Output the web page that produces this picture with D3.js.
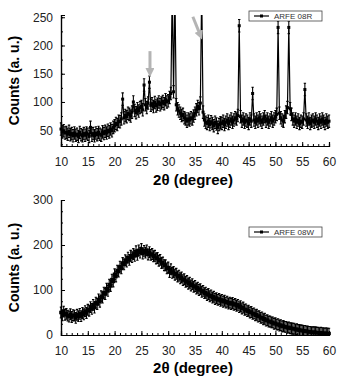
<!DOCTYPE html>
<html>
<head>
<meta charset="utf-8">
<script src="https://cdn.jsdelivr.net/npm/d3@7"></script>
<style>
  body { margin: 0; background: #fff; }
  svg { display: block; font-family: "Liberation Sans", Arial, sans-serif; }
</style>
</head>
<body>
<svg id="chart" width="340" height="377"></svg>
<script>
// sampling grid of the scans (2theta, degree)
var thetaStart = 10, thetaStep = 0.25;

// ARFE 08R counts, 10.00 ... 60.00 step 0.25
var countsR = [
  52,47,49,45,46,43,48,42,44,40,45,41,43,39,46,42,40,44,41,45,
  43,39,55,41,44,40,45,42,46,43,41,47,44,48,45,50,47,52,49,55,
  58,62,60,66,65,70,105,72,76,74,80,78,75,82,100,85,81,88,84,90,
  92,86,130,95,90,98,135,94,97,92,99,93,96,100,95,98,101,97,104,100,
  102,108,115,300,118,300,95,88,84,80,76,78,72,70,66,70,68,72,70,75,
  80,86,92,88,98,300,82,68,64,62,66,60,65,62,58,64,61,55,60,63,
  62,66,60,64,68,62,66,70,64,68,72,70,76,235,74,66,70,64,68,66,
  62,70,66,115,68,64,70,66,72,68,64,70,74,66,70,64,68,72,66,70,
  74,78,232,80,72,68,66,74,82,90,232,88,78,70,66,70,64,68,62,66,
  64,70,122,68,64,70,62,66,68,64,70,66,62,68,64,70,66,62,68,64,
  66
];

// ARFE 08W counts, 10.00 ... 60.00 step 0.25
var countsW = [
  50,44,52,45,47,43,41,46,40,44,43,38,45,42,47,42,49,46,53,49,
  56,54,62,58,67,61,72,69,79,74,86,83,94,91,103,98,112,109,123,119,
  135,130,143,141,152,148,160,157,166,163,172,167,176,173,180,176,186,178,188,183,
  191,181,187,183,188,179,184,178,180,175,176,170,171,165,167,160,161,155,155,148,
  150,140,146,138,140,134,136,130,132,126,128,122,124,118,120,114,116,110,113,107,
  109,103,105,100,102,96,98,93,94,89,91,86,88,83,85,80,82,78,80,76,
  78,74,76,72,74,70,72,69,71,67,69,65,67,62,64,59,61,56,57,53,
  54,50,51,47,48,44,45,41,42,38,39,35,36,32,33,30,30,28,28,25,
  26,23,24,21,22,19,20,18,18,16,17,15,15,14,14,12,13,11,11,10,
  10,9,9,8,8,7,7,6,6,6,6,5,5,4,5,4,4,3,4,3,
  3
];

var errR = 11, errW = 12;

var xTicks = [10, 15, 20, 25, 30, 35, 40, 45, 50, 55, 60];
var yTicksR = [50, 100, 150, 200, 250];
var yTicksW = [0, 100, 200, 300];

// grey arrows marking reflections in ARFE 08R: [theta0, count0, theta1, count1]
var arrowsR = [
  [26.6, 190, 26.6, 152],
  [34.6, 251, 36.0, 218]
];

var svg = d3.select('#chart');

svg.append('defs').append('marker')
  .attr('id', 'head')
  .attr('viewBox', '0 0 10 10')
  .attr('refX', 5).attr('refY', 5)
  .attr('markerWidth', 3).attr('markerHeight', 3)
  .attr('orient', 'auto')
  .append('path')
  .attr('d', 'M0,0 L10,5 L0,10 Z')
  .attr('fill', '#b4b4b4');

function toPoints(values) {
  return values.map(function(v, i) {
    return { t: thetaStart + i * thetaStep, c: v };
  });
}

function drawPanel(cfg) {
  var x = d3.scaleLinear().domain([10, 60]).range([61, 329]),
      y = d3.scaleLinear().domain(cfg.yDomain).range(cfg.yRange),
      pts = toPoints(cfg.values),
      g = svg.append('g'),
      clipId = 'clip' + cfg.id,
      plot;

  svg.select('defs').append('clipPath').attr('id', clipId)
    .append('rect')
    .attr('x', 55).attr('y', cfg.yRange[1])
    .attr('width', 280).attr('height', cfg.yRange[0] - cfg.yRange[1]);

  plot = g.append('g').attr('clip-path', 'url(#' + clipId + ')');

  // error bars
  plot.selectAll('.err').data(pts).enter().append('path')
    .attr('d', function(d) {
      var px = x(d.t), y0 = y(d.c - cfg.err), y1 = y(d.c + cfg.err);
      return 'M' + px + ',' + y0 + 'V' + y1 +
             'M' + (px - 1.2) + ',' + y0 + 'h2.4' +
             'M' + (px - 1.2) + ',' + y1 + 'h2.4';
    })
    .attr('stroke', '#000').attr('stroke-width', 1.1).attr('fill', 'none');

  plot.append('path').datum(pts)
    .attr('d', d3.line().x(function(d) { return x(d.t); }).y(function(d) { return y(d.c); }))
    .attr('fill', 'none').attr('stroke', '#000').attr('stroke-width', 1.2);

  plot.selectAll('.pt').data(pts).enter().append('rect')
    .attr('x', function(d) { return x(d.t) - cfg.mark / 2; })
    .attr('y', function(d) { return y(d.c) - cfg.mark / 2; })
    .attr('width', cfg.mark).attr('height', cfg.mark)
    .attr('fill', '#000');

  // axes
  var xMinor = g.append('g').attr('transform', 'translate(0,' + cfg.yRange[0] + ')')
    .call(d3.axisBottom(x).ticks(50).tickSize(-2).tickFormat(''));
  var xAxis = g.append('g').attr('transform', 'translate(0,' + cfg.yRange[0] + ')')
    .call(d3.axisBottom(x).tickValues(xTicks).tickSize(-4).tickPadding(11));
  var yMinor = g.append('g').attr('transform', 'translate(61,0)')
    .call(d3.axisLeft(y).tickValues(d3.range(cfg.yDomain[0] - cfg.yDomain[0] % 25 + 25, cfg.yDomain[1], 25))
      .tickSize(-2).tickFormat(''));
  var yAxis = g.append('g').attr('transform', 'translate(61,0)')
    .call(d3.axisLeft(y).tickValues(cfg.yTicks).tickSize(-4).tickPadding(8));

  [xMinor, xAxis, yMinor, yAxis].forEach(function(a) {
    a.select('.domain').attr('stroke', '#000').attr('stroke-width', 1.2);
    a.selectAll('line').attr('stroke', '#000');
  });
  [xAxis, yAxis].forEach(function(a) {
    a.selectAll('text').attr('font-size', 12).attr('fill', '#222')
      .attr('font-family', '"Liberation Sans", Arial, sans-serif');
  });

  // titles
  g.append('text')
    .attr('transform', 'translate(' + 19 + ',' + (cfg.yRange[0] + cfg.yRange[1]) / 2 + ') rotate(-90)')
    .attr('text-anchor', 'middle')
    .attr('font-size', 14).attr('font-weight', 'bold')
    .text('Counts (a. u.)');

  g.append('text')
    .attr('x', 193).attr('y', cfg.yRange[0] + cfg.titleGap)
    .attr('text-anchor', 'middle')
    .attr('font-size', 15).attr('font-weight', 'bold')
    .text('2\u03b8 (degree)');

  // legend
  var lg = g.append('g').attr('transform', 'translate(249,' + cfg.legendY + ')');
  lg.append('rect').attr('width', 73).attr('height', 10)
    .attr('fill', '#fff').attr('stroke', '#444').attr('stroke-width', 0.8);
  lg.append('line').attr('x1', 5).attr('x2', 20).attr('y1', 5).attr('y2', 5)
    .attr('stroke', '#000').attr('stroke-width', 1.2);
  lg.append('rect').attr('x', 11).attr('y', 3.5).attr('width', 3).attr('height', 3).attr('fill', '#000');
  lg.append('text').attr('x', 25).attr('y', 8.3)
    .attr('font-size', 8).attr('fill', '#333')
    .text(cfg.label);

  return { x: x, y: y, g: g };
}

var panelR = drawPanel({
  id: 'R', values: countsR, err: errR, mark: 3,
  yDomain: [22, 254], yRange: [146, 15], titleGap: 39,
  yTicks: yTicksR, legendY: 11, label: 'ARFE 08R'
});

drawPanel({
  id: 'W', values: countsW, err: errW, mark: 3.6,
  yDomain: [0, 300], yRange: [335, 200], titleGap: 38,
  yTicks: yTicksW, legendY: 227, label: 'ARFE 08W'
});

panelR.g.selectAll('.arrow').data(arrowsR).enter().append('line')
  .attr('x1', function(d) { return panelR.x(d[0]); })
  .attr('y1', function(d) { return panelR.y(d[1]); })
  .attr('x2', function(d) { return panelR.x(d[2]); })
  .attr('y2', function(d) { return panelR.y(d[3]); })
  .attr('stroke', '#b4b4b4').attr('stroke-width', 3)
  .attr('marker-end', 'url(#head)');
</script>
</body>
</html>
